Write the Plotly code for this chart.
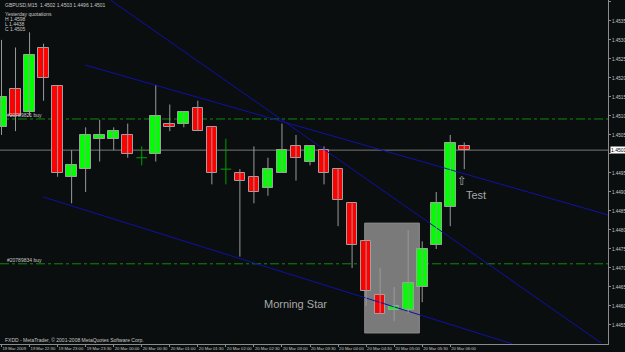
import plotly.graph_objects as go
import pandas as pd

# ---- data (GBPUSD M15) ----
opens  = [1.4507, 1.4517, 1.4511, 1.4528, 1.4518, 1.4494, 1.4496, 1.4504, 1.4504, 1.4505,
          1.4499, 1.4500, 1.4508, 1.4508, 1.4512, 1.4507, 1.4496, 1.4495, 1.4494, 1.4491,
          1.4495, 1.4502, 1.4498, 1.4501, 1.4496, 1.4487, 1.4477, 1.4463, 1.4459, 1.4459,
          1.4465, 1.4476, 1.4486, 1.4502]
highs  = [1.4530, 1.4528, 1.4532, 1.4529, 1.4518, 1.4501, 1.4507, 1.4509, 1.4507, 1.4508,
          1.4502, 1.4518, 1.4513, 1.4511, 1.4514, 1.4507, 1.4504, 1.4496, 1.4502, 1.4499,
          1.4508, 1.4505, 1.4502, 1.4502, 1.4496, 1.4487, 1.4477, 1.4470, 1.4465, 1.4480,
          1.4477, 1.4490, 1.4505, 1.4503]
lows   = [1.4505, 1.4506, 1.4510, 1.4514, 1.4494, 1.4487, 1.4490, 1.4498, 1.4501, 1.4499,
          1.4497, 1.4498, 1.4506, 1.4507, 1.4506, 1.4492, 1.4492, 1.4473, 1.4487, 1.4489,
          1.4495, 1.4493, 1.4497, 1.4492, 1.4481, 1.4470, 1.4460, 1.4458, 1.4456, 1.4458,
          1.4461, 1.4475, 1.4481, 1.4496]
closes = [1.4515, 1.4510, 1.4526, 1.4520, 1.4495, 1.4497, 1.4505, 1.4505, 1.4506, 1.4500,
          1.4499, 1.4510, 1.4507, 1.4511, 1.4506, 1.4495, 1.4496, 1.4493, 1.4490, 1.4496,
          1.4501, 1.4499, 1.4502, 1.4495, 1.4488, 1.4476, 1.4464, 1.4458, 1.4460, 1.4466,
          1.4475, 1.4487, 1.4503, 1.4501]

times = pd.date_range("2009-03-19 22:00", periods=len(opens), freq="15min")

# trend lines (bar index / price anchors)
trend_x0 = [5.96, 7.76, 2.96]
trend_y0 = [1.45234, 1.45405, 1.44887]
trend_x1 = [43.3, 42.75, 36.46]
trend_y1 = [1.44839, 1.44503, 1.44500]

# order lines
order_prices = [1.45092, 1.44711]
order_labels = ["#20789821 buy", "#20789834 buy"]
current_price = 1.4501

# highlighted box (bar index / price)
box_x = [25.9, 29.8]
box_y = [1.44529, 1.44818]

y_ticks = [1.4455 + 0.0005 * k for k in range(18)]

# ---- figure ----
idx = list(range(len(opens)))
BODY = 0.76
fig = go.Figure()

fig.add_shape(type="rect", x0=box_x[0], x1=box_x[1], y0=box_y[0], y1=box_y[1],
              fillcolor="#7a7a7a", line=dict(color="#8a8a8a", width=1), layer="below")
for p in order_prices:
    fig.add_shape(type="line", xref="paper", x0=0, x1=1, y0=p, y1=p,
                  line=dict(color="#0f8a0f", width=1, dash="dashdot"), layer="below")
fig.add_shape(type="line", xref="paper", x0=0, x1=1, y0=current_price, y1=current_price,
              line=dict(color="#7a7a7a", width=1), layer="below")

for k in range(len(trend_x0)):
    fig.add_trace(go.Scatter(x=[trend_x0[k], trend_x1[k]], y=[trend_y0[k], trend_y1[k]],
                             mode="lines", line=dict(color="#1010a8", width=1),
                             showlegend=False, hoverinfo="skip"))

# wicks
wx, wy, dx, dy = [], [], [], []
for i in idx:
    if opens[i] == closes[i]:
        dx += [i, i, None, i - BODY / 2, i + BODY / 2, None]
        dy += [lows[i], highs[i], None, opens[i], opens[i], None]
    else:
        wx += [i, i, None]
        wy += [lows[i], highs[i], None]
fig.add_trace(go.Scatter(x=wx, y=wy, mode="lines", line=dict(color="#9a9a9a", width=1),
                         showlegend=False, hoverinfo="skip"))
fig.add_trace(go.Scatter(x=dx, y=dy, mode="lines", line=dict(color="#00a000", width=1),
                         showlegend=False, hoverinfo="skip"))

# bodies
body_i = [i for i in idx if opens[i] != closes[i]]
fig.add_trace(go.Bar(
    x=body_i,
    y=[abs(closes[i] - opens[i]) for i in body_i],
    base=[min(opens[i], closes[i]) for i in body_i],
    width=BODY,
    marker=dict(color=["#00ff00" if closes[i] > opens[i] else "#ff0000" for i in body_i],
                line=dict(color="#a0a0a0", width=1)),
    showlegend=False, hoverinfo="skip"))

ann_font = dict(family="Liberation Sans", size=5, color="#c8c8c8")
for p, lab in zip(order_prices, order_labels):
    fig.add_annotation(x=0.008, xref="paper", y=p, text=lab, showarrow=False,
                       xanchor="left", yanchor="bottom", yshift=-1, font=ann_font)

header = ["GBPUSD,M15  1.4502 1.4503 1.4496 1.4501", "", "Yesterday quotations",
          "H 1.4598", "L 1.4438", "C 1.4505"]
hy = [5, 9.5, 14, 19, 24, 29]
for t, py in zip(header, hy):
    if t:
        fig.add_annotation(x=0.005, xref="paper", y=1 - py / 344, yref="paper", text=t,
                           showarrow=False, xanchor="left", yanchor="middle", font=ann_font)

fig.add_annotation(x=0.005, xref="paper", y=1 - 340 / 344, yref="paper",
                   text="FXDD - MetaTrader, © 2001-2008 MetaQuotes Software Corp.",
                   showarrow=False, xanchor="left", yanchor="middle", font=ann_font)

fig.add_annotation(x=21.0, y=1.44605, text="Morning Star", showarrow=False,
                   font=dict(family="Liberation Sans", size=11, color="#a8a8a8"))
fig.add_annotation(x=33.85, y=1.44892, text="Test", showarrow=False,
                   font=dict(family="Liberation Sans", size=11, color="#a8a8a8"))
fig.add_annotation(x=32.85, y=1.44930, text="⇧", showarrow=False,
                   font=dict(family="DejaVu Sans", size=12, color="#a8a8a8"))
fig.add_annotation(x=1, xref="paper", y=current_price, text="1.4501", showarrow=False,
                   xanchor="left", xshift=2, bgcolor="#ffffff", borderpad=0,
                   font=dict(family="Liberation Sans", size=5, color="#000000"))

tick_vals = idx[::2]
tick_text = [("19 Mar 2009" if i == 0 else times[i].strftime("%d Mar %H:%M").lstrip("0"))
             for i in tick_vals]

x_font = dict(family="Liberation Sans Narrow, Liberation Sans", size=4.2, color="#c8c8c8")
y_font = dict(family="Liberation Sans", size=4.6, color="#c8c8c8")
fig.update_layout(
    width=625, height=352, margin=dict(l=0, r=17, t=0, b=8),
    paper_bgcolor="#0a0e0e", plot_bgcolor="#0a0e0e", showlegend=False, bargap=0,
    xaxis=dict(range=[-0.107, 43.25], showgrid=False, zeroline=False, showline=True,
               mirror=True, linecolor="#8c8c8c", linewidth=1, ticks="outside", ticklen=2,
               tickcolor="#8c8c8c", tickvals=tick_vals, ticktext=tick_text, tickangle=0,
               tickfont=x_font, ticklabelposition="outside right", automargin=False),
    yaxis=dict(range=[1.44500, 1.45405], side="right", showgrid=False, zeroline=False,
               showline=True, mirror=True, linecolor="#8c8c8c", linewidth=1,
               ticks="outside", ticklen=2, tickcolor="#8c8c8c", tickvals=y_ticks,
               ticktext=["" if abs(v - 1.45) < 1e-9 else f"{v:.4f}" for v in y_ticks],
               tickfont=y_font, automargin=False),
)

fig.write_html("out.html")
